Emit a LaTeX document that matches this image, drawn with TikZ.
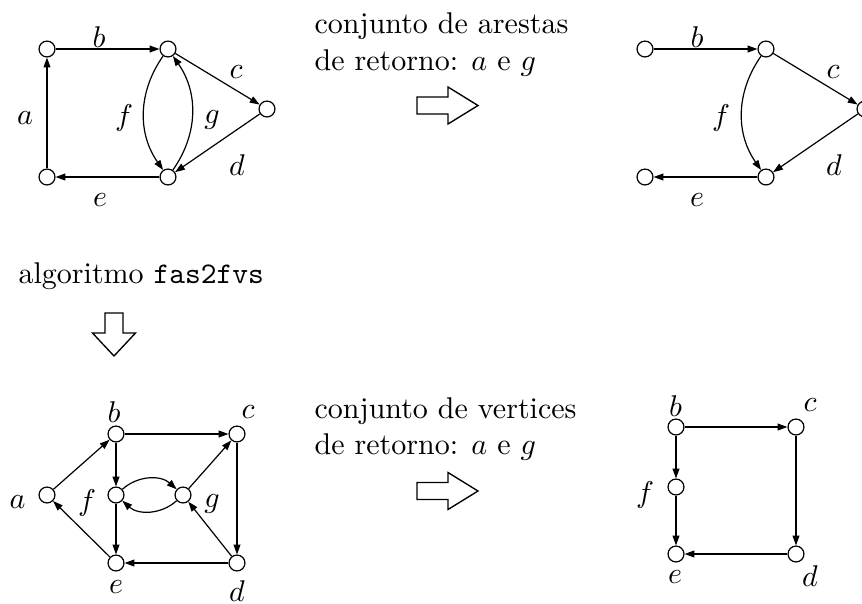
\documentclass[tikz,border=0pt]{standalone}
\usetikzlibrary{arrows.meta}
\begin{document}
\begin{tikzpicture}[x=0.33333pt,y=0.33333pt,
  v/.style={circle,draw,line width=0.4pt,minimum size=5.3pt,inner sep=0pt,fill=white},
  lbl/.style={inner sep=0pt},
  ed/.style={-{Triangle[length=3.3pt,width=2.3pt]},line width=0.4pt},
  txt/.style={inner sep=0pt,anchor=base west},
  bigarrow/.style={draw,line width=0.45pt,fill=white}]
\useasboundingbox (0,0) rectangle (862,-603);

% ---------- top-left graph ----------
\node[v] (A1) at (47,-49) {};
\node[v] (B1) at (168,-49) {};
\node[v] (C1) at (267,-109) {};
\node[v] (D1) at (168,-177) {};
\node[v] (E1) at (47,-177) {};
\draw[ed] (E1) -- (A1);
\draw[ed] (A1) -- (B1);
\draw[ed] (B1) -- (C1);
\draw[ed] (C1) -- (D1);
\draw[ed] (D1) -- (E1);
\draw[ed] (B1) to[bend right=35] (D1);
\draw[ed] (D1) to[bend right=35] (B1);
\node[lbl] (la1) at (25,-118) {$a$};
\node[lbl] (lb1) at (99,-37) {$b$};
\node[lbl] (lc1) at (236,-72) {$c$};
\node[lbl] (ld1) at (237,-165) {$d$};
\node[lbl] (le1) at (100,-200) {$e$};
\node[lbl] (lf1) at (124,-118) {$f$};
\node[lbl] (lg1) at (212,-120) {$g$};

% ---------- top text and arrow ----------
\node[txt] (t1) at (314,-33) {conjunto de arestas};
\node[txt] (t2) at (314,-70) {de retorno: $a$ e $g$};
\draw[bigarrow] (417,-97) -- (448,-97) -- (448,-87) -- (478,-105.5)
  -- (448,-124) -- (448,-114) -- (417,-114) -- cycle;

% ---------- top-right graph ----------
\node[v] (A2) at (645,-49) {};
\node[v] (B2) at (766,-49) {};
\node[v] (C2) at (865,-109) {};
\node[v] (D2) at (766,-177) {};
\node[v] (E2) at (645,-177) {};
\draw[ed] (A2) -- (B2);
\draw[ed] (B2) -- (C2);
\draw[ed] (C2) -- (D2);
\draw[ed] (D2) -- (E2);
\draw[ed] (B2) to[bend right=35] (D2);
\node[lbl] (lb2) at (697,-37) {$b$};
\node[lbl] (lc2) at (833,-72) {$c$};
\node[lbl] (ld2) at (834,-165) {$d$};
\node[lbl] (le2) at (697,-200) {$e$};
\node[lbl] (lf2) at (721,-118) {$f$};

% ---------- algorithm text and down arrow ----------
\node[txt] (t3) at (18,-283) {algoritmo \texttt{fas2fvs}};
\draw[bigarrow] (105,-313) -- (123,-313) -- (123,-333) -- (135.5,-333)
  -- (114,-356) -- (92.5,-333) -- (105,-333) -- cycle;

% ---------- bottom-left graph ----------
\node[v] (a3) at (47,-495) {};
\node[v] (b3) at (116,-434) {};
\node[v] (c3) at (237,-434) {};
\node[v] (f3) at (116,-495) {};
\node[v] (g3) at (183,-495) {};
\node[v] (e3) at (116,-563) {};
\node[v] (d3) at (237,-563) {};
\draw[ed] (a3) -- (b3);
\draw[ed] (e3) -- (a3);
\draw[ed] (b3) -- (c3);
\draw[ed] (b3) -- (f3);
\draw[ed] (f3) -- (e3);
\draw[ed] (c3) -- (d3);
\draw[ed] (d3) -- (e3);
\draw[ed] (d3) -- (g3);
\draw[ed] (g3) -- (c3);
\draw[ed] (f3) to[bend left=42] (g3);
\draw[ed] (g3) to[bend left=42] (f3);
\node[lbl] (la3) at (17.5,-502) {$a$};
\node[lbl] (lb3) at (114,-412) {$b$};
\node[lbl] (lc3) at (248,-412) {$c$};
\node[lbl] (lf3) at (87,-503) {$f$};
\node[lbl] (lg3) at (212,-504) {$g$};
\node[lbl] (le3) at (116,-587) {$e$};
\node[lbl] (ld3) at (237,-591) {$d$};

% ---------- bottom text and arrow ----------
\node[txt] (t4) at (314,-418) {conjunto de vertices};
\node[txt] (t5) at (314,-454) {de retorno: $a$ e $g$};
\draw[bigarrow] (417,-482.5) -- (448,-482.5) -- (448,-472.5) -- (478,-491)
  -- (448,-509.5) -- (448,-499.5) -- (417,-499.5) -- cycle;

% ---------- bottom-right graph ----------
\node[v] (b4) at (676,-427) {};
\node[v] (c4) at (796,-427) {};
\node[v] (f4) at (676,-487) {};
\node[v] (e4) at (676,-554) {};
\node[v] (d4) at (796,-554) {};
\draw[ed] (b4) -- (c4);
\draw[ed] (b4) -- (f4);
\draw[ed] (f4) -- (e4);
\draw[ed] (c4) -- (d4);
\draw[ed] (d4) -- (e4);
\node[lbl] (lb4) at (675.5,-406) {$b$};
\node[lbl] (lc4) at (810,-405) {$c$};
\node[lbl] (lf4) at (645,-495) {$f$};
\node[lbl] (le4) at (675,-577) {$e$};
\node[lbl] (ld4) at (810,-576) {$d$};
\end{tikzpicture}
\end{document}
